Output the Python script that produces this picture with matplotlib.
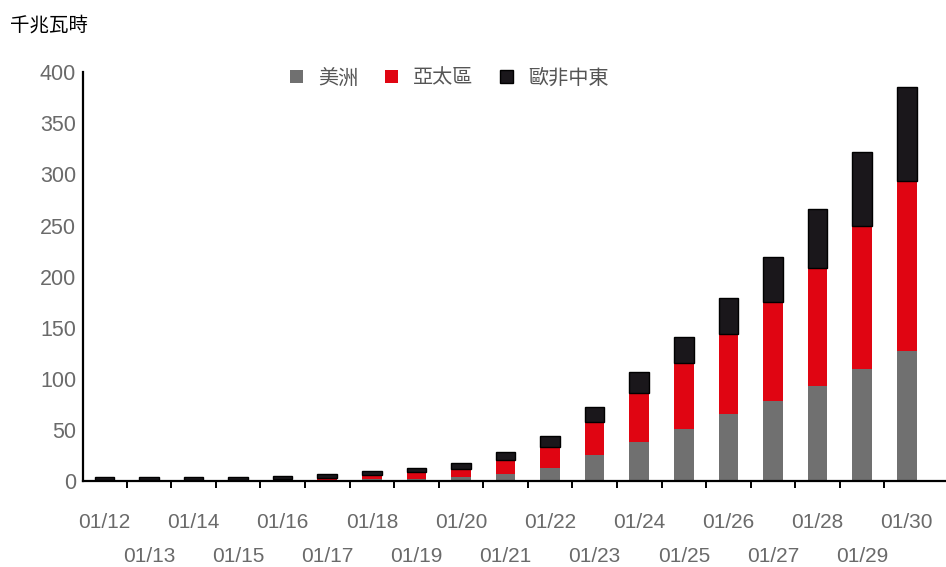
import matplotlib.pyplot as plt
import numpy as np

plt.rcParams["font.family"] = ["Liberation Sans", "Noto Sans CJK TC", "DejaVu Sans"]

# Daily cumulative figures, GWh
dates = ["01/12", "01/13", "01/14", "01/15", "01/16", "01/17", "01/18",
         "01/19", "01/20", "01/21", "01/22", "01/23", "01/24", "01/25",
         "01/26", "01/27", "01/28", "01/29", "01/30"]
americas = [0.5, 0.5, 0.5, 0.5, 1, 0.8, 2, 2, 4, 7.5, 12.7, 25.4, 38.7,
            51.5, 66, 78.5, 93, 110, 127]
apac = [0.5, 0.5, 0.5, 0.5, 1.5, 2.5, 4.5, 7, 8.5, 13.3, 21, 32.8, 47.8,
        64.5, 78, 97, 116, 140, 167]
emea = [3, 3, 3, 3, 3, 3.7, 4, 4.5, 5.5, 8, 10.7, 14.4, 20, 25.5, 35, 44,
        57, 72, 91]
series_names = ["美洲", "亞太區", "歐非中東"]

grey = "#707070"
red = "#e00512"
black = "#1a171b"
text_grey = "#6a6a6a"

fig = plt.figure(figsize=(9.46, 5.67), dpi=100)
ax = fig.add_axes([0.0877, 0.1508, 0.9113, 0.7222])

x = np.arange(len(dates))
a = np.array(americas)
p = np.array(apac)
e = np.array(emea)
w = 0.44

ax.bar(x, a, w, color=grey, label=series_names[0], zorder=2)
ax.bar(x, p, w, bottom=a, color=red, label=series_names[1], zorder=2)
ax.bar(x, e, w, bottom=a + p, color=black, edgecolor="black",
       linewidth=1.0, label=series_names[2], zorder=2)

ax.set_xlim(-0.48, 18.86)
ax.set_ylim(0, 400)
ax.set_yticks(np.arange(0, 401, 50))

for s in ["top", "right"]:
    ax.spines[s].set_visible(False)
for s in ["left", "bottom"]:
    ax.spines[s].set_linewidth(1.6)
    ax.spines[s].set_color("black")

ax.tick_params(axis="y", length=0, pad=5, labelsize=15.5, labelcolor=text_grey)
# ticks sit between the bars; labels are staggered on two rows
ax.set_xticks(x[:-1] + 0.5)
ax.set_xticklabels([])
ax.tick_params(axis="x", length=5, width=1.4, direction="out", color="black")
for i, d in enumerate(dates):
    yoff = -41 if i % 2 == 0 else -75
    ax.annotate(d, xy=(i, 0), xycoords=("data", "axes fraction"),
                xytext=(0, yoff), textcoords="offset pixels", ha="center",
                va="center", fontsize=15, color=text_grey,
                annotation_clip=False)

leg = ax.legend(loc="center", bbox_to_anchor=(0.425, 0.985), ncol=3,
                frameon=False, fontsize=14.5, handlelength=0.65,
                handleheight=0.65, handletextpad=0.75, columnspacing=1.3)
for t in leg.get_texts():
    t.set_color("#555555")

fig.text(0.011, 0.955, "千兆瓦時", fontsize=14, color="black",
         family=["Noto Sans CJK TC"], va="center", ha="left")

fig.savefig("out.png", dpi=100)
